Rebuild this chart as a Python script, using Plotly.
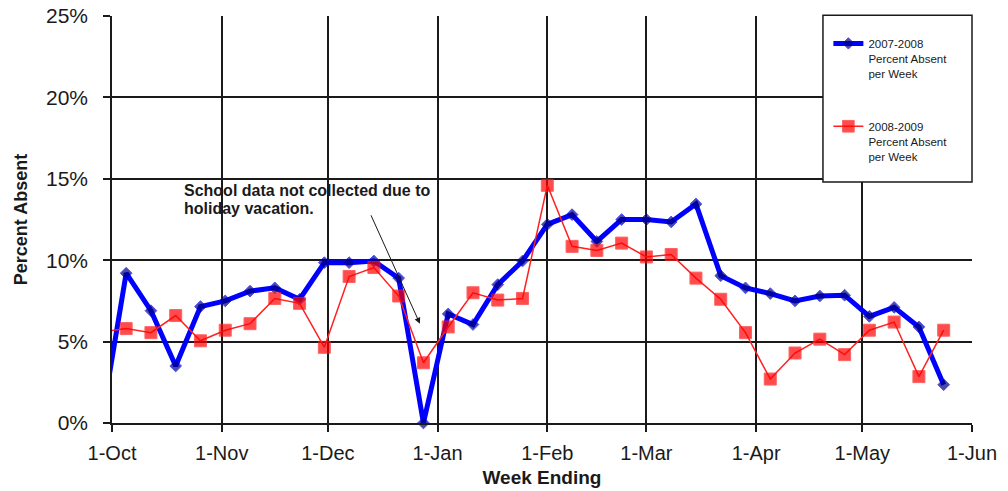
import plotly.graph_objects as go

# ---- data ----
week_ending = [
    "2008-09-28", "2008-10-05", "2008-10-12", "2008-10-19", "2008-10-26",
    "2008-11-02", "2008-11-09", "2008-11-16", "2008-11-23", "2008-11-30",
    "2008-12-07", "2008-12-14", "2008-12-21", "2008-12-28", "2009-01-04",
    "2009-01-11", "2009-01-18", "2009-01-25", "2009-02-01", "2009-02-08",
    "2009-02-15", "2009-02-22", "2009-03-01", "2009-03-08", "2009-03-15",
    "2009-03-22", "2009-03-29", "2009-04-05", "2009-04-12", "2009-04-19",
    "2009-04-26", "2009-05-03", "2009-05-10", "2009-05-17", "2009-05-24",
]
absent_2007_2008 = [
    0.0, 9.2, 6.9, 3.5, 7.15, 7.5, 8.1, 8.3, 7.6, 9.85,
    9.85, 9.95, 8.9, 0.0, 6.7, 6.05, 8.5, 9.95, 12.2, 12.8,
    11.15, 12.5, 12.5, 12.35, 13.45, 9.05, 8.3, 7.95, 7.5, 7.8,
    7.85, 6.55, 7.1, 5.9, 2.35,
]
absent_2008_2009 = [
    5.6, 5.8, 5.55, 6.6, 5.05, 5.7, 6.1, 7.65, 7.35, 4.65,
    9.0, 9.55, 7.8, 3.7, 5.9, 8.0, 7.55, 7.65, 14.6, 10.85,
    10.6, 11.05, 10.2, 10.35, 8.9, 7.6, 5.55, 2.7, 4.3, 5.15,
    4.2, 5.7, 6.2, 2.85, 5.7,
]
series_names = [
    "2007-2008<br>Percent Absent<br>per Week",
    "2008-2009<br>Percent Absent<br>per Week",
]
x_range = ["2008-10-01", "2009-06-01"]
y_ticks = [0, 5, 10, 15, 20, 25]
y_tick_labels = ["0%", "5%", "10%", "15%", "20%", "25%"]
note_lines = ["School data not collected due to", "holiday vacation."]

FONT = "Arial, Liberation Sans, sans-serif"
INK = "#1a1a1a"

# first week lies before the axis start: its marker is hidden (line is clipped)
def sizes(n, s):
    return [0] + [s] * (n - 1)

fig = go.Figure()
fig.add_trace(go.Scatter(
    x=week_ending, y=absent_2007_2008, name=series_names[0],
    mode="lines+markers", legendgroup="a",
    line=dict(color="#0000FF", width=5),
    marker=dict(symbol="diamond", size=sizes(len(week_ending), 9), color="#000080"),
    cliponaxis=False,
))
fig.add_trace(go.Scatter(
    x=week_ending, y=absent_2008_2009, name=series_names[1],
    mode="lines+markers", legendgroup="b",
    line=dict(color="#FF2020", width=1.5),
    marker=dict(symbol="square", size=sizes(len(week_ending), 12), color="#FF0000"),
    cliponaxis=False,
))

# legend frame
fig.add_shape(type="rect", xref="paper", yref="paper",
              x0=0.8267, x1=1.0, y0=0.592, y1=1.002,
              fillcolor="white", line=dict(color=INK, width=1.5), layer="above")

# annotation text (one annotation per line for tight spacing) and arrow
for line_text, y_val in zip(note_lines, [14.31, 13.2]):
    fig.add_annotation(x="2008-10-21", y=y_val, xref="x", yref="y",
                       text=line_text, showarrow=False, xanchor="left", yanchor="middle",
                       align="left", borderpad=0,
                       font=dict(family=FONT, size=16, color=INK, weight="bold"))
fig.add_annotation(x="2008-12-27", y=6.1, xref="x", yref="y",
                   ax="2008-12-13", ay=12.85, axref="x", ayref="y",
                   text="", showarrow=True, arrowhead=2, arrowsize=1.2,
                   arrowwidth=1, arrowcolor=INK)

fig.update_layout(
    width=1008, height=491,
    margin=dict(l=112, r=36, t=16, b=68),
    paper_bgcolor="white", plot_bgcolor="white",
    font=dict(family=FONT, color=INK),
    showlegend=True,
    legend=dict(x=0.833, y=0.967, xanchor="left", yanchor="top",
                bgcolor="rgba(0,0,0,0)", borderwidth=0,
                font=dict(family=FONT, size=11.5, color=INK),
                traceorder="grouped", tracegroupgap=35, valign="top",
                itemwidth=30),
    xaxis=dict(
        type="date", range=x_range, dtick="M1", tick0="2008-10-01",
        tickformat="%-d-%b", showgrid=True, gridcolor=INK, gridwidth=1.5,
        showline=True, linecolor=INK, linewidth=1.5,
        ticks="outside", ticklen=7, tickcolor=INK, tickwidth=1.5,
        ticklabelstandoff=4,
        tickfont=dict(family=FONT, size=20, color=INK),
        automargin=False,
        title=dict(text="<b>Week Ending</b>", font=dict(family=FONT, size=19, color=INK),
                   standoff=8),
    ),
    yaxis=dict(
        range=[0, 25], tickvals=y_ticks, ticktext=y_tick_labels,
        showgrid=True, gridcolor=INK, gridwidth=1.5, zeroline=False,
        showline=True, linecolor=INK, linewidth=1.5,
        ticks="outside", ticklen=7, tickcolor=INK, tickwidth=1.5,
        ticklabelstandoff=11, automargin=False,
        tickfont=dict(family=FONT, size=21, color=INK),
        title=dict(text="<b>Percent Absent</b>", font=dict(family=FONT, size=18, color=INK),
                   standoff=14),
    ),
)

fig.write_html("out.html", config={"displayModeBar": False},
               post_script="document.body.style.margin='0';")
